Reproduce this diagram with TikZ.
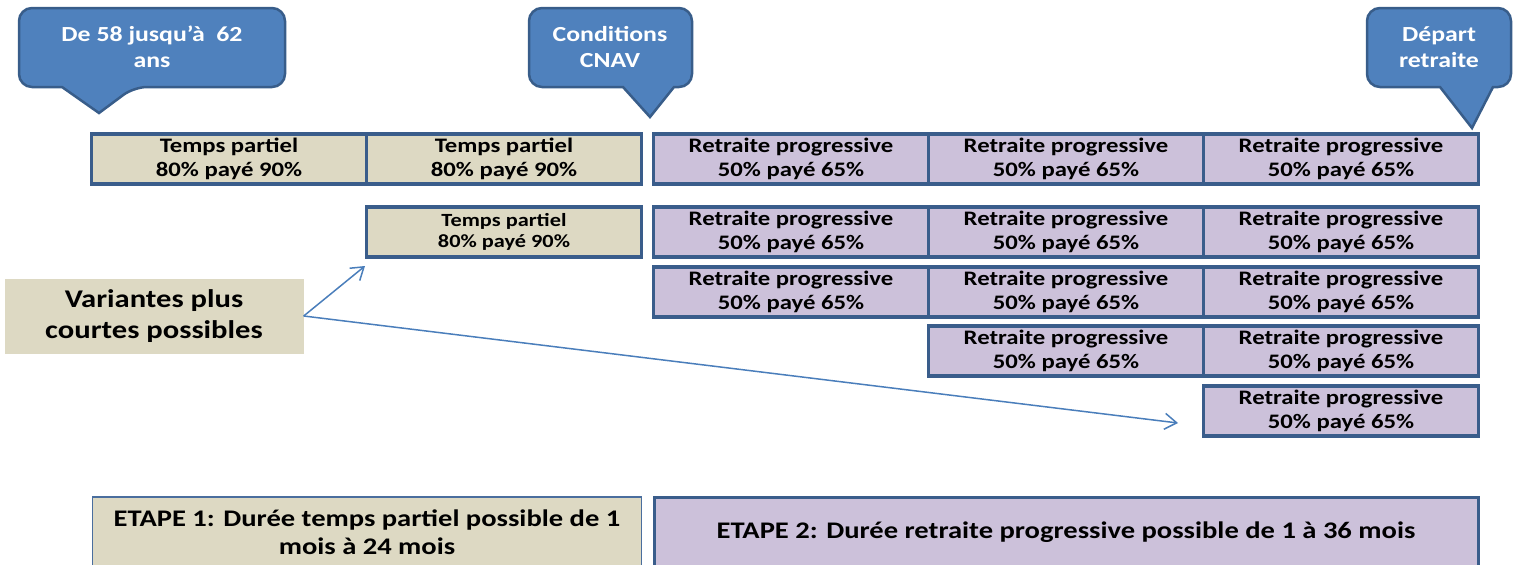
\documentclass[tikz,border=0pt]{standalone}
\usepackage{fontspec}
\setmainfont[FakeStretch=1.2]{Carlito}
\usetikzlibrary{arrows.meta}
\definecolor{bleu}{HTML}{4F81BD}
\definecolor{bleufonce}{HTML}{385D8A}
\definecolor{bordure}{HTML}{3A5D8B}
\definecolor{bordclair}{HTML}{4A6E9E}
\definecolor{beige}{HTML}{DDD9C3}
\definecolor{mauve}{HTML}{CCC1DA}
\definecolor{bleufleche}{HTML}{4A7EBB}

\begin{document}
\begin{tikzpicture}
  [x=1pt,y=-1pt,
   bulle/.style={fill=bleu,draw=bleufonce,line width=2.5pt},
   bulletexte/.style={text=white,align=center,font=\bfseries\fontsize{21.5}{26}\selectfont},
   tempsp/.style={rectangle,draw=bordure,line width=3.2pt,fill=beige,minimum width=275pt,minimum height=50pt,inner sep=0pt,align=center,font=\bfseries\fontsize{20.6}{23.5}\selectfont},
   retraite/.style={tempsp,fill=mauve},
   etape/.style={rectangle,inner sep=0pt,minimum height=70pt,align=center,font=\bfseries\fontsize{23.8}{28}\selectfont},
   fleche/.style={draw=bleufleche,line width=1.5pt,-{Straight Barb[length=12pt,width=16pt]}}]
  \useasboundingbox (0,0) rectangle (1516,565);

  \draw[bulle] (150,8) [rounded corners=13pt] -- (285,8) -- (285,87) -- (134,87) [sharp corners] -- (99,113) -- (62,87) [rounded corners=13pt] -- (19,87) -- (19,8) -- cycle;
  \draw[bulle] (610,8) [rounded corners=13pt] -- (692,8) -- (692,87) [sharp corners] -- (674,87) -- (650,117) -- (623,87) [rounded corners=13pt] -- (529,87) -- (529,8) -- cycle;
  \draw[bulle] (1440,8) [rounded corners=13pt] -- (1511,8) -- (1511,87) [sharp corners] -- (1493,87) -- (1472,128) -- (1440,87) [rounded corners=13pt] -- (1367,87) -- (1367,8) -- cycle;
  \node[bulletexte] (age) at (152,47) {De 58 jusqu’à~ 62\\ans};
  \node[bulletexte] (cnav) at (610,47) {Conditions\\CNAV};
  \node[bulletexte] (depart) at (1439,47) {Départ\\retraite};

  \node[tempsp] (tp1) at (229,159) {Temps partiel\\80\% payé 90\%};
  \node[tempsp] (tp2) at (504,159) {Temps partiel\\80\% payé 90\%};
  \node[retraite] (rp11) at (791,159) {Retraite progressive\\50\% payé 65\%};
  \node[retraite] (rp12) at (1066,159) {Retraite progressive\\50\% payé 65\%};
  \node[retraite] (rp13) at (1341,159) {Retraite progressive\\50\% payé 65\%};

  \node[tempsp,font=\bfseries\fontsize{18.6}{21}\selectfont] (tp3) at (504,232) {Temps partiel\\80\% payé 90\%};
  \node[retraite] (rp21) at (791,232) {Retraite progressive\\50\% payé 65\%};
  \node[retraite] (rp22) at (1066,232) {Retraite progressive\\50\% payé 65\%};
  \node[retraite] (rp23) at (1341,232) {Retraite progressive\\50\% payé 65\%};

  \node[retraite] (rp31) at (791,292) {Retraite progressive\\50\% payé 65\%};
  \node[retraite] (rp32) at (1066,292) {Retraite progressive\\50\% payé 65\%};
  \node[retraite] (rp33) at (1341,292) {Retraite progressive\\50\% payé 65\%};

  \node[retraite] (rp42) at (1066,351) {Retraite progressive\\50\% payé 65\%};
  \node[retraite] (rp43) at (1341,351) {Retraite progressive\\50\% payé 65\%};

  \node[retraite] (rp53) at (1341,411) {Retraite progressive\\50\% payé 65\%};

  \node[fill=beige,minimum width=299pt,minimum height=75pt,inner sep=0pt,align=center,font=\bfseries\fontsize{25.5}{31}\selectfont] (var) at (154,316) {Variantes plus\\courtes possibles};

  \coordinate (bout1) at (365,266);
  \coordinate (bout2) at (1178,423);
  \draw[fleche] (var.east) -- (bout1);
  \draw[fleche] (var.east) -- (bout2);

  \node[etape,fill=beige,draw=bordclair,line width=1.2pt,minimum width=549pt] (etape1) at (367,532) {ETAPE 1: Durée temps partiel possible de 1\\mois à 24 mois};
  \node[etape,fill=mauve,draw=bordure,line width=3pt,minimum width=824pt] (etape2) at (1066,532) {ETAPE 2: Durée retraite progressive possible de 1 à 36 mois};
\end{tikzpicture}
\end{document}
